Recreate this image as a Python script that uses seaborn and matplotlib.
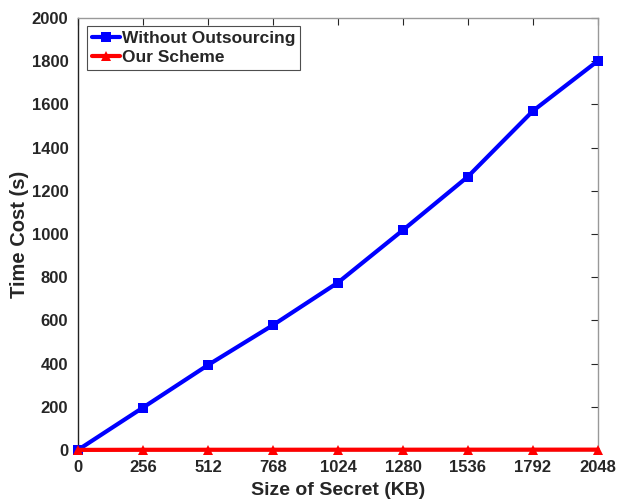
import matplotlib
matplotlib.use("Agg")
import matplotlib.pyplot as plt
import pandas as pd
import seaborn as sns

secret_sizes = [0, 256, 512, 768, 1024, 1280, 1536, 1792, 2048]
without_outsourcing = [0, 196, 393, 578, 775, 1018, 1266, 1570, 1802]
our_scheme = [0, 0.5, 0.6, 0.7, 0.8, 0.9, 1.0, 1.1, 1.2]

df = pd.DataFrame({
    "size": secret_sizes * 2,
    "time": without_outsourcing + our_scheme,
    "method": ["Without Outsourcing"] * len(secret_sizes) + ["Our Scheme"] * len(secret_sizes),
})

sns.set_style("white")
plt.rcParams["font.family"] = ["Liberation Sans", "DejaVu Sans"]
plt.rcParams["font.weight"] = "bold"

fig = plt.figure(figsize=(6.19, 5.01), dpi=100)
ax = fig.add_axes([0.126, 0.102, 0.840, 0.862])

sns.lineplot(
    data=df, x="size", y="time", hue="method", style="method",
    palette={"Without Outsourcing": "#0000ff", "Our Scheme": "#ff0000"},
    markers={"Without Outsourcing": "s", "Our Scheme": "^"},
    dashes=False, linewidth=3, markersize=7, markeredgewidth=0,
    ax=ax, clip_on=False, zorder=3,
)

ax.set_xlim(0, 2048)
ax.set_ylim(0, 2000)
ax.set_xticks(secret_sizes)
ax.set_yticks(range(0, 2001, 200))
ax.tick_params(direction="in", length=5, width=0.8, labelsize=12, pad=7,
               top=True, right=True, labeltop=False, labelright=False)
for lab in ax.get_xticklabels() + ax.get_yticklabels():
    lab.set_fontweight("bold")
for s in ["left", "bottom"]:
    ax.spines[s].set_color("#222222")
for s in ["top", "right"]:
    ax.spines[s].set_color("#999999")
for s in ax.spines.values():
    s.set_linewidth(1.0)

ax.set_xlabel("Size of Secret (KB)", fontsize=14, fontweight="bold", labelpad=5)
ax.set_ylabel("Time Cost (s)", fontsize=14.5, fontweight="bold", labelpad=2)

leg = ax.legend(loc="upper left", bbox_to_anchor=(0.017, 0.982), fontsize=12.5,
                frameon=True, fancybox=False, handlelength=1.6, handletextpad=0.1,
                borderpad=0.3, labelspacing=0.2, borderaxespad=0)
leg.get_frame().set_edgecolor("#222222")
leg.get_frame().set_linewidth(0.8)
for t in leg.get_texts():
    t.set_fontweight("bold")

fig.savefig("out.png", dpi=100)
